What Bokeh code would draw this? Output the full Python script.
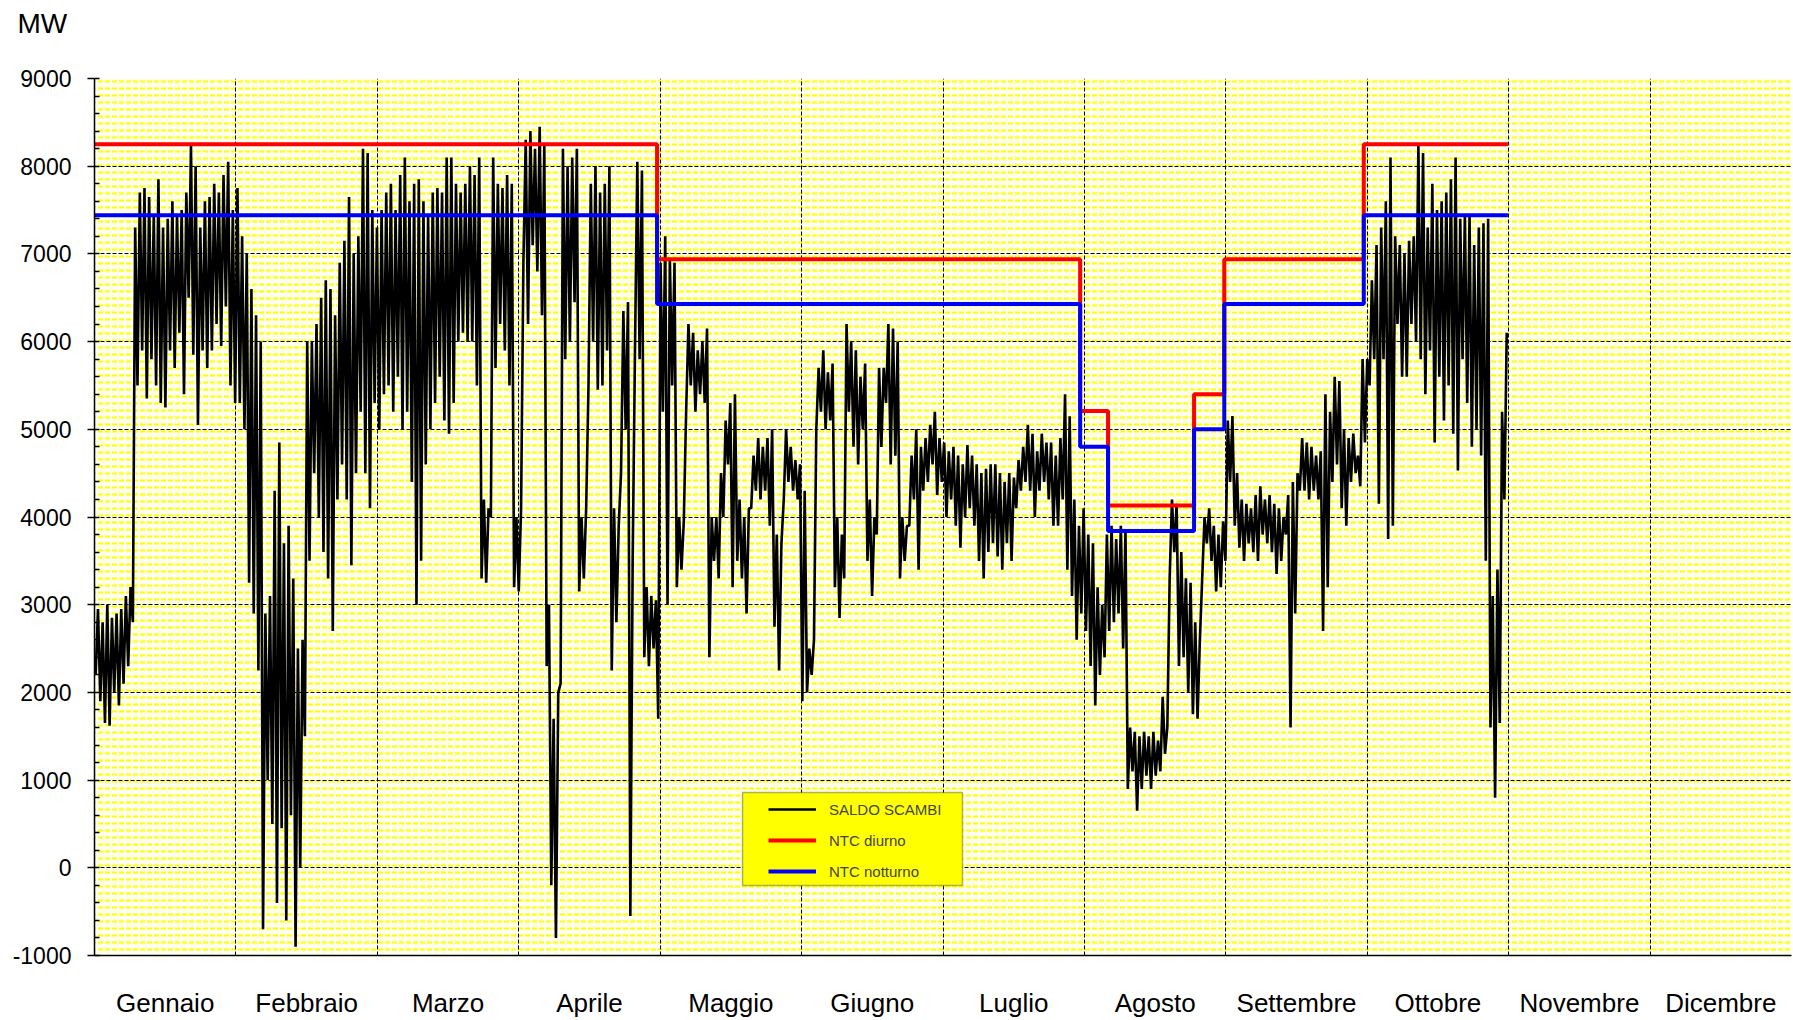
import numpy as np
from bokeh.plotting import figure
from bokeh.models import FixedTicker, Range1d, Legend, LegendItem, BoxAnnotation, Title
from bokeh.embed import file_html
from bokeh.resources import INLINE

# ---------------- data ----------------
months = ["Gennaio", "Febbraio", "Marzo", "Aprile", "Maggio", "Giugno",
          "Luglio", "Agosto", "Settembre", "Ottobre", "Novembre", "Dicembre"]
hours_per_year = 8760
month_tick_hours = 730

# SALDO SCAMBI: daily minimum (night) and maximum (day) values, MW, 1 Jan - 31 Oct
saldo_lo = [
    # Gennaio
    2200, 1900, 1650, 1620, 2000, 1850, 2100, 2300, 2800, 5500, 5900, 5350, 5800, 5500, 5300, 5250,
    5900, 5700, 6100, 5400, 6500, 5850, 5050, 5900, 5700, 5900, 6200, 5950, 6400, 5500, 5300,
    # Febbraio
    5300, 5000, 3250, 2900, 2250, -700, 1000, 500, -400, 450, -600, 600, -900, 0,
    1500, 3500, 4500, 4000, 3600, 3300, 2700, 4200, 4600, 4200, 3450, 4500, 5200, 4500,
    # Marzo
    4100, 5300, 5000, 5400, 5500, 5200, 5600, 5000, 5200, 4400, 3000, 3500, 4600, 5000, 5300, 5600,
    5100, 4950, 5300, 6000, 6100, 6000, 6000, 5500, 3300, 3250, 4000, 5700, 6200, 5900, 5500,
    # Aprile
    3200, 3150, 6900, 6200, 7100, 6800, 6300, 2300, -200, -800, 2100, 5800, 6000, 6450, 3150,
    3300, 5500, 6000, 5450, 5500, 5900, 2250, 2800, 4500, 5000, -550, 5900, 5800, 2400, 2300,
    # Maggio
    2500, 1700, 5200, 3000, 5500, 3200, 3400, 5200, 5500, 5200, 5400, 5300, 2400, 3500, 3300, 4000,
    4600, 3200, 3500, 3300, 2900, 4100, 4300, 4200, 4300, 3900, 2750, 2250, 4200, 4400, 4300,
    # Giugno
    4200, 1900, 2000, 2200, 5000, 5200, 5000, 5100, 3200, 2850, 3300, 5200, 4800, 4600, 5000,
    3500, 3100, 3800, 4800, 5300, 4600, 4700, 3300, 3500, 3900, 4200, 3400, 4300, 4400, 4600,
    # Luglio
    4250, 4400, 4000, 4200, 3900, 3650, 4000, 4100, 3900, 3500, 3300, 3600, 3700, 3550, 3400, 3700,
    3500, 4100, 4300, 4400, 4300, 4000, 4300, 4400, 4200, 3900, 3900, 4200, 3400, 3100, 2600,
    # Agosto
    2900, 2700, 2300, 1850, 2200, 2400, 2700, 2800, 2900, 2500, 900, 1100, 650, 900, 1050, 900,
    1050, 1100, 1300, 3300, 3600, 2300, 2400, 2000, 1750, 1700, 3300, 3700, 3500, 3150, 3200,
    # Settembre
    3500, 4400, 3900, 3650, 3500, 3700, 3600, 3500, 3800, 3700, 3600, 3350, 3500, 3800, 1600,
    2900, 4300, 4300, 4200, 4300, 4200, 2700, 3200, 4400, 4600, 4100, 3900, 4400, 4500, 4350,
    # Ottobre
    4850, 5500, 5800, 4150, 5800, 3750, 3900, 6200, 5600, 5600, 6200, 6000, 5800, 5400, 5900, 4850,
    5600, 5100, 5500, 4950, 4530, 5800, 5300, 4800, 5000, 4700, 3500, 1600, 800, 1650, 4200,
]
saldo_hi = [
    # Gennaio
    2950, 2800, 3000, 2850, 2900, 2950, 3100, 3200, 7300, 7700, 7750, 7650, 7450, 7850, 7300, 7400,
    7600, 7450, 7500, 7700, 8230, 8000, 7300, 7600, 7650, 7800, 7700, 7900, 8050, 7500, 7750,
    # Febbraio
    7200, 7000, 6600, 6300, 6000, 2900, 3100, 4300, 4850, 3700, 3900, 3300, 2500, 2600,
    6000, 6000, 6200, 6500, 6700, 6600, 6300, 6900, 7150, 7650, 7000, 7200, 8200, 8150,
    # Marzo
    7500, 7300, 7500, 7700, 7800, 7500, 7900, 8100, 7600, 7800, 7850, 7600, 7450, 7700, 7750, 7700,
    8100, 8100, 7800, 7700, 7800, 8000, 7900, 8100, 4200, 4100, 8100, 7800, 7750, 7900, 7800,
    # Aprile
    4000, 4100, 8300, 8400, 8200, 8450, 8250, 3000, 1700, 2000, 8200, 8000, 8100, 8200, 4000,
    4100, 7800, 8000, 7700, 7800, 8000, 4100, 3900, 6350, 6450, 3500, 8050, 7950, 3200, 3100,
    # Maggio
    3050, 6900, 7200, 6950, 6900, 4000, 3950, 6200, 6100, 5900, 6000, 6150, 4000, 4000, 4500, 5100,
    5300, 5400, 4200, 4000, 4100, 4700, 4900, 4800, 4900, 5000, 3800, 3700, 5000, 4800, 4650,
    # Giugno
    4600, 4300, 2500, 2600, 5700, 5900, 5650, 5750, 4000, 3800, 6200, 6000, 5900, 5600, 5750,
    4200, 4000, 5700, 5700, 6200, 6150, 6000, 4000, 3900, 4700, 5000, 4800, 4900, 5050, 5200,
    # Luglio
    4900, 4850, 4750, 4800, 4700, 4600, 4820, 4700, 4600, 4500, 4550, 4600, 4600, 4500, 4400, 4500,
    4450, 4650, 4800, 5050, 4950, 4750, 4950, 4850, 4850, 4700, 4900, 5400, 5150, 4200, 3900,
    # Agosto
    4100, 3800, 3700, 3200, 3000, 3800, 3900, 3750, 3900, 3850, 1600, 1550, 1500, 1550, 1500, 1550,
    1450, 1950, 1600, 4200, 4150, 3600, 3300, 3250, 2800, 2600, 4000, 4100, 3900, 3800, 3950,
    # Settembre
    5100, 5150, 4500, 4200, 4150, 4100, 4250, 4350, 4200, 4250, 4150, 4100, 4000, 4250, 4400,
    4500, 4900, 4850, 4800, 4700, 4750, 5400, 5200, 5600, 5550, 5000, 4900, 4950, 4700, 5800,
    # Ottobre
    5800, 6700, 7100, 7300, 7600, 8100, 7200, 7100, 7000, 7150, 7200, 8230, 8150, 7300, 7800, 7500,
    7600, 7700, 7850, 8100, 7400, 7450, 7450, 7100, 7300, 7350, 7400, 3100, 3400, 5200, 6100,
]

# NTC (transfer capacity) steps: day of year where each value starts, last entry = end
ntc_start_day = [0, 121, 212, 218, 236.5, 243, 273, 304]
ntc_diurno = [8250, 6940, 5210, 4130, 5400, 6940, 8250]
ntc_notturno = [7440, 6430, 4800, 3840, 5000, 6430, 7440]

# ---------------- derived series ----------------
saldo_vals = np.empty(2 * len(saldo_lo))
saldo_vals[0::2] = saldo_lo
saldo_vals[1::2] = saldo_hi
saldo_hours = np.arange(len(saldo_vals)) * 12 + 6

ntc_hours = [d * 24 for d in ntc_start_day]
diurno_y = ntc_diurno + [ntc_diurno[-1]]
notturno_y = ntc_notturno + [ntc_notturno[-1]]

FONT = "Liberation Sans"
BG = "#FFFFEE"

p = figure(width=1793, height=1020, output_backend="svg", toolbar_location=None,
           x_range=Range1d(0, hours_per_year), y_range=Range1d(-1000, 9000),
           min_border_left=94, min_border_right=2, min_border_top=78, min_border_bottom=59)
p.outline_line_color = None
p.background_fill_color = BG

# unit label "MW" above the value axis
p.title.text = "MW"
p.title.align = "left"
p.title.offset = -77
p.title.text_font = FONT
p.title.text_font_size = "28px"
p.title.text_font_style = "normal"
p.title.text_color = "black"
p.title.vertical_align = "top"
p.title.standoff = 0
# blank spacer between the unit label and the plotting area
p.add_layout(Title(text=" ", text_font=FONT, text_font_size="32px", standoff=0), "above")

bg = BoxAnnotation(fill_color=BG, fill_alpha=1.0, line_alpha=0,
                   hatch_pattern="horizontal_dash", hatch_color="#FFFF00",
                   hatch_scale=7, hatch_weight=2, level="image")
p.add_layout(bg)

r_saldo = p.line(saldo_hours, saldo_vals, line_color="black", line_width=2.6)
r_diurno = p.step(ntc_hours, diurno_y, mode="after", line_color="#FF0000", line_width=4)
r_nott = p.step(ntc_hours, notturno_y, mode="after", line_color="#0000FF", line_width=4)

# axes
yticks = list(range(-1000, 9001, 1000))
p.yaxis.ticker = FixedTicker(ticks=yticks, minor_ticks=list(range(-1000, 9001, 200)))
p.yaxis.major_label_overrides = {-1000: "-1000"}
p.yaxis.major_tick_out = 7
p.yaxis.major_tick_in = 0
p.yaxis.minor_tick_in = 5
p.yaxis.minor_tick_out = 0
p.yaxis.major_tick_line_width = 1.5
p.yaxis.minor_tick_line_width = 1.5
p.yaxis.axis_line_width = 1.5
p.yaxis.major_label_standoff = 16
p.yaxis.major_label_text_font = FONT
p.yaxis.major_label_text_font_size = "23px"
p.yaxis.major_label_text_color = "black"

centers = [month_tick_hours // 2 + month_tick_hours * i for i in range(12)]
p.xaxis.ticker = FixedTicker(ticks=centers)
p.xaxis.major_label_overrides = {c: m for c, m in zip(centers, months)}
p.xaxis.major_tick_out = 0
p.xaxis.major_tick_in = 0
p.xaxis.minor_tick_line_color = None
p.xaxis.axis_line_width = 1.5
p.xaxis.major_label_standoff = 32
p.xaxis.major_label_text_font = FONT
p.xaxis.major_label_text_font_size = "26px"
p.xaxis.major_label_text_color = "black"

p.xgrid.ticker = FixedTicker(ticks=[month_tick_hours * i for i in range(13)])
for g in (p.xgrid, p.ygrid):
    g.grid_line_color = "black"
    g.grid_line_dash = "4 2"
    g.grid_line_width = 1

# legend box (yellow panel) and legend entries
legend_box = BoxAnnotation(left=648, right=868, top=163, bottom=70,
                           left_units="screen", right_units="screen",
                           top_units="screen", bottom_units="screen",
                           fill_color="#FFFF00", fill_alpha=1.0,
                           line_color="black", line_width=1.5, level="annotation")
p.add_layout(legend_box)

legend = Legend(items=[LegendItem(label="SALDO SCAMBI", renderers=[r_saldo]),
                       LegendItem(label="NTC diurno", renderers=[r_diurno]),
                       LegendItem(label="NTC notturno", renderers=[r_nott])],
                location=(674, 74))
legend.border_line_alpha = 0
legend.background_fill_alpha = 0
legend.label_text_font = FONT
legend.label_text_font_size = "15px"
legend.glyph_width = 48
legend.glyph_height = 20
legend.label_height = 20
legend.label_standoff = 13
legend.padding = 0
legend.spacing = 11
legend.margin = 0
p.add_layout(legend)

open("out.html", "w").write(file_html(p, INLINE))
